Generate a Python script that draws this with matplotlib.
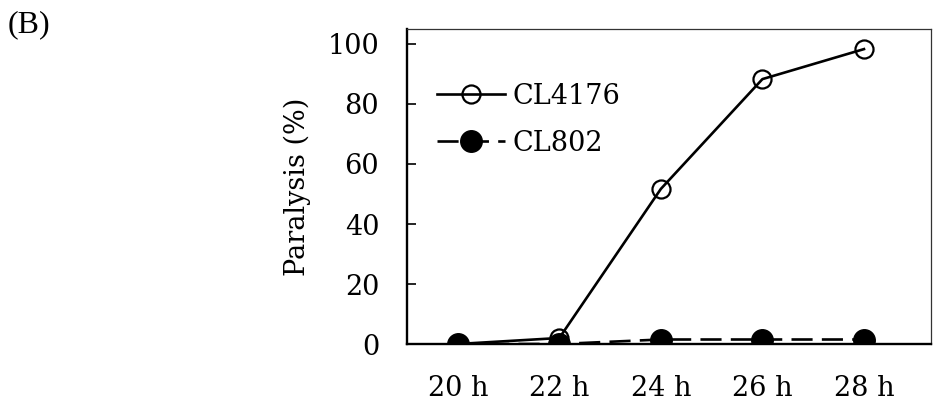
import matplotlib
matplotlib.use("Agg")
import matplotlib.pyplot as plt

# Data
hours = ['20 h', '22 h', '24 h', '26 h', '28 h']
cl4176 = [0, 2, 51.7, 88.3, 98.3]
cl802 = [0, 0, 1.5, 1.5, 1.5]
yticks = [0, 20, 40, 60, 80, 100]

plt.rcParams['font.family'] = ['DejaVu Serif']

fig = plt.figure(figsize=(9.33, 4.15), dpi=100)
ax = fig.add_axes([407 / 933, 1 - 344 / 415, 524 / 933, 315 / 415])

x = list(range(len(hours)))
ax.plot(x, cl4176, color='black', lw=1.9, marker='o', ms=13,
        mfc='none', mec='black', mew=1.6, label='CL4176', zorder=3)
ax.plot(x, cl802, color='black', lw=1.9, ls=(0, (8, 3.5)), marker='o', ms=15.5,
        mfc='black', mec='black', label='CL802', zorder=4)

ax.set_xlim(-0.5, 4.66)
ax.set_ylim(0, 105)
ax.set_xticks(x)
ax.set_xticklabels(hours)
ax.set_yticks(yticks)
ax.tick_params(axis='x', length=0, pad=22, labelsize=19.5)
ax.tick_params(axis='y', direction='in', length=6.5, width=1.2, pad=20, labelsize=19.5)
ax.set_ylabel('Paralysis (%)', fontsize=19.5, labelpad=12)

for side in ['left', 'bottom']:
    ax.spines[side].set_linewidth(1.7)
for side in ['top', 'right']:
    ax.spines[side].set_linewidth(0.9)
    ax.spines[side].set_color('#333333')

ax.legend(loc='upper left', bbox_to_anchor=(0.057, 0.83), frameon=False,
          fontsize=19.5, borderpad=0, borderaxespad=0, handlelength=2.5,
          handletextpad=0.3, labelspacing=0.75, numpoints=1)

fig.text(0.008, 0.975, '(B)', fontsize=23, family=['Liberation Serif', 'DejaVu Serif'],
         va='top')

fig.savefig('out.png', dpi=100)
